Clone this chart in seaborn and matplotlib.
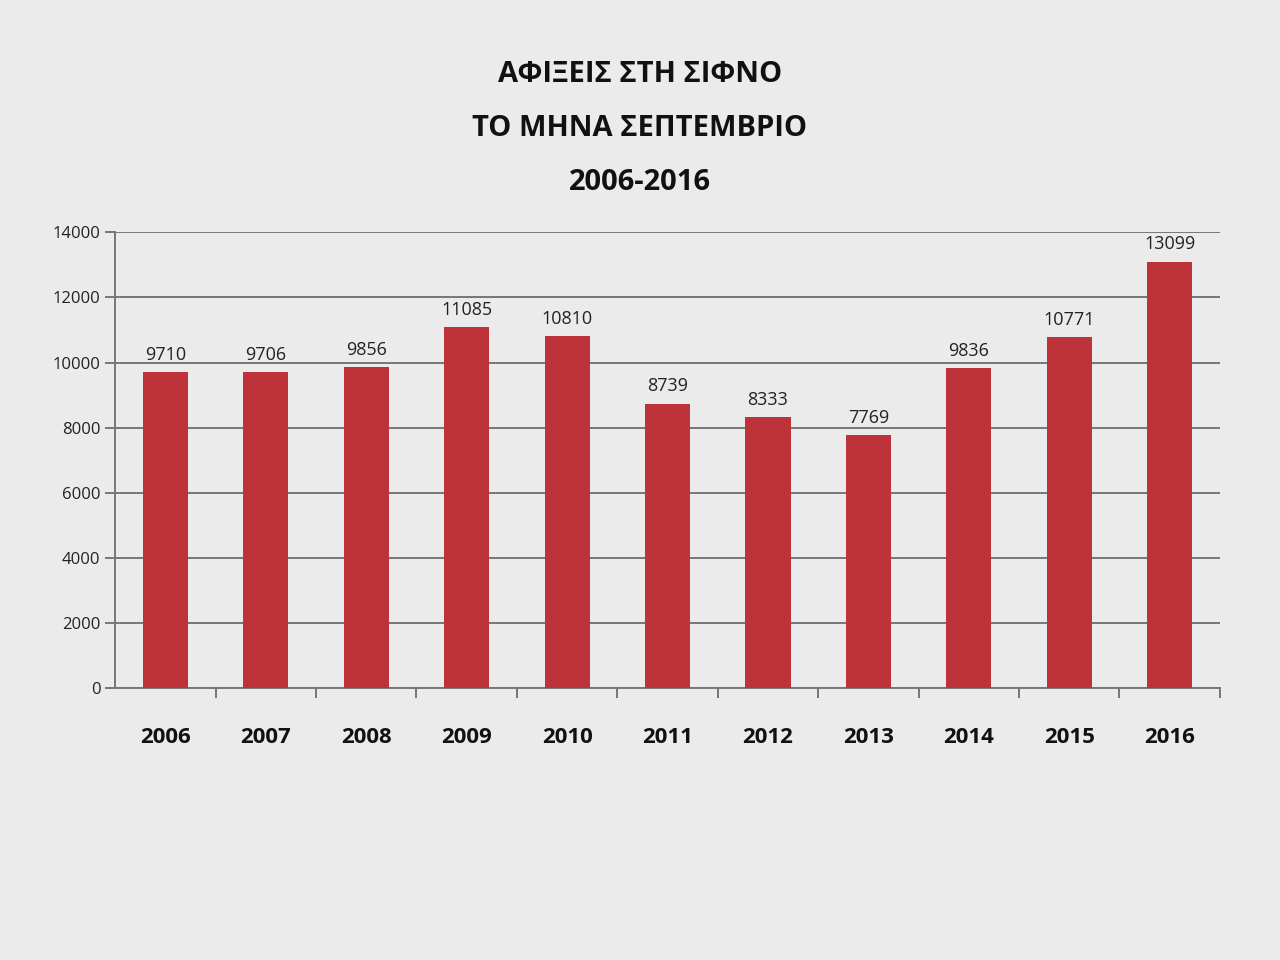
import matplotlib
matplotlib.use("Agg")
import matplotlib.pyplot as plt
import seaborn as sns
import pandas as pd
import numpy as np

# data
years = ["2006", "2007", "2008", "2009", "2010", "2011", "2012", "2013", "2014", "2015", "2016"]
arrivals = [9710, 9706, 9856, 11085, 10810, 8739, 8333, 7769, 9836, 10771, 13099]
y_ticks = [0, 2000, 4000, 6000, 8000, 10000, 12000, 14000]

title_lines = ["ΑΦΙΞΕΙΣ ΣΤΗ ΣΙΦΝΟ", "ΤΟ ΜΗΝΑ ΣΕΠΤΕΜΒΡΙΟ", "2006-2016"]

df = pd.DataFrame({"year": years, "arrivals": arrivals})

sns.set_style("white")
plt.rcParams["font.family"] = ["Open Sans", "DejaVu Sans"]

bg = "#ebebeb"
line_col = "#767676"
fig = plt.figure(figsize=(12.8, 9.6), dpi=100, facecolor=bg)
ax = fig.add_axes([0.09, 0.283, 0.863, 0.475])
ax.set_facecolor(bg)

sns.barplot(data=df, x="year", y="arrivals", color="#bd3339", width=0.45,
            saturation=1, linewidth=0, ax=ax, zorder=3)

# value labels above bars
ax.bar_label(ax.containers[0], labels=[str(v) for v in arrivals],
             padding=6, fontsize=13, color="#222222")

ax.set_ylim(0, 14000)
ax.set_xlim(-0.5, len(years) - 0.5)
ax.set_yticks(y_ticks)
ax.set_yticklabels([str(t) for t in y_ticks], fontsize=12, color="#222222")
ax.yaxis.grid(True, color=line_col, lw=1.4, zorder=0)
ax.set_xlabel("")
ax.set_ylabel("")

# year labels without ticks, small ticks between categories
ax.tick_params(axis="x", which="major", bottom=True, length=0, pad=28)
ax.set_xticks(np.arange(len(years)) + 0.5, minor=True)
ax.tick_params(axis="x", which="minor", bottom=True, length=7, width=1.4,
               color=line_col, direction="out")
ax.tick_params(axis="y", left=True, length=7, width=1.4, color=line_col, direction="out")
for lbl in ax.get_xticklabels():
    lbl.set_fontsize(16)
    lbl.set_fontweight("bold")
    lbl.set_color("#111111")

for side in ["top", "right"]:
    ax.spines[side].set_visible(False)
for side in ["left", "bottom"]:
    ax.spines[side].set_color(line_col)
    ax.spines[side].set_linewidth(1.4)

# title, three centred lines
for i, line in enumerate(title_lines):
    fig.text(0.5, 0.922 - i * 0.056, line, ha="center", va="center",
             fontsize=21, fontweight="bold", color="#111111")

fig.savefig("out.png", dpi=100, facecolor=bg)
